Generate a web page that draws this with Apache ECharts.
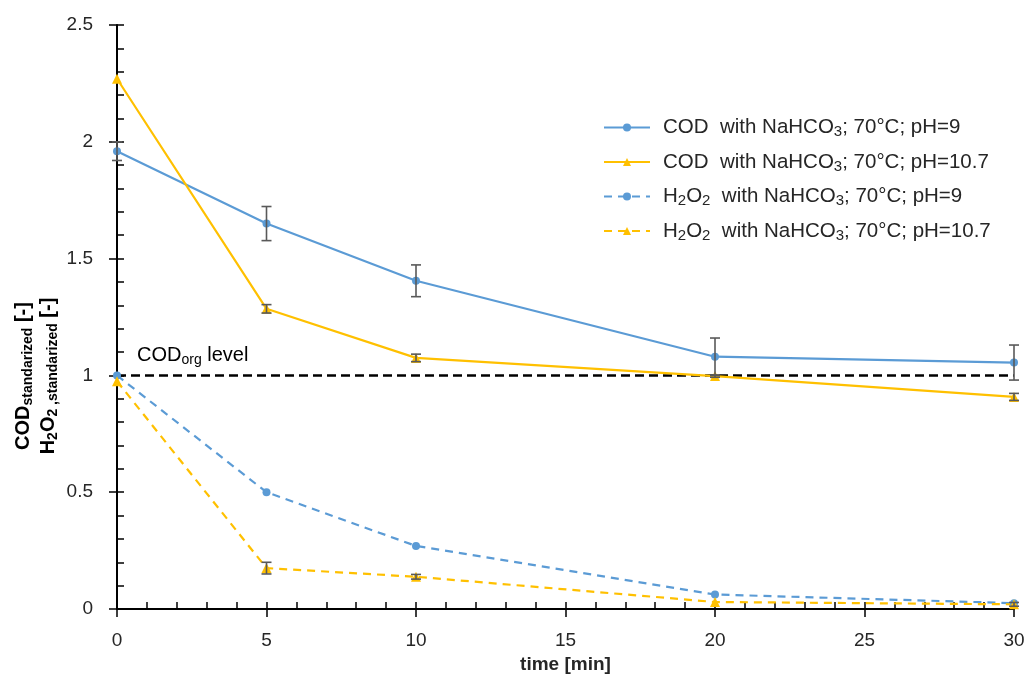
<!DOCTYPE html>
<html>
<head>
<meta charset="utf-8">
<script src="https://cdn.jsdelivr.net/npm/echarts@6/dist/echarts.min.js"></script>
<style>html,body{margin:0;padding:0;background:#fff}#c{width:1028px;height:688px}</style>
</head>
<body>
<div id="c"></div>
<script>
const times = [0, 5, 10, 20, 30];
const codPH9 = [1.96, 1.65, 1.405, 1.08, 1.055];
const codPH9Err = [0.04, 0.073, 0.068, 0.08, 0.075];
const codPH107 = [2.27, 1.285, 1.075, 0.997, 0.908];
const codPH107Err = [0, 0.018, 0.016, 0.005, 0.015];
const h2o2PH9 = [1.0, 0.50, 0.27, 0.062, 0.025];
const h2o2PH9Err = [0, 0, 0, 0, 0];
const h2o2PH107 = [0.975, 0.175, 0.138, 0.03, 0.02];
const h2o2PH107Err = [0, 0.025, 0.01, 0, 0.008];
const refLevel = 1;
const seriesNames = [
  'COD  with NaHCO3; 70°C; pH=9',
  'COD  with NaHCO3; 70°C; pH=10.7',
  'H2O2  with NaHCO3; 70°C; pH=9',
  'H2O2  with NaHCO3; 70°C; pH=10.7'
];
const legendRich = {
  [seriesNames[0]]: 'COD  with NaHCO{s|3}; 70°C; pH=9',
  [seriesNames[1]]: 'COD  with NaHCO{s|3}; 70°C; pH=10.7',
  [seriesNames[2]]: 'H{s|2}O{s|2}  with NaHCO{s|3}; 70°C; pH=9',
  [seriesNames[3]]: 'H{s|2}O{s|2}  with NaHCO{s|3}; 70°C; pH=10.7'
};

const BLUE = '#5B9BD5', ORANGE = '#FFC000', ERR = '#595959';
const FONT = 'Liberation Sans';

function pts(vals) { return times.map((t, i) => [t, vals[i]]); }
function errData(vals, errs) {
  const out = [];
  times.forEach((t, i) => { if (errs[i] > 0) out.push([t, vals[i] - errs[i], vals[i] + errs[i]]); });
  return out;
}
function errSeries(vals, errs) {
  return {
    type: 'custom', z: 5, silent: true,
    data: errData(vals, errs),
    encode: { x: 0, y: [1, 2] },
    renderItem: function (params, api) {
      const lo = api.coord([api.value(0), api.value(1)]);
      const hi = api.coord([api.value(0), api.value(2)]);
      const w = 5;
      const st = { stroke: ERR, lineWidth: 1.6, fill: null };
      return {
        type: 'group', children: [
          { type: 'line', shape: { x1: lo[0], y1: lo[1], x2: hi[0], y2: hi[1] }, style: st },
          { type: 'line', shape: { x1: lo[0] - w, y1: lo[1], x2: lo[0] + w, y2: lo[1] }, style: st },
          { type: 'line', shape: { x1: hi[0] - w, y1: hi[1], x2: hi[0] + w, y2: hi[1] }, style: st }
        ]
      };
    }
  };
}

const chart = echarts.init(document.getElementById('c'));
const axisLine = { show: true, onZero: false, lineStyle: { color: '#000', width: 2 } };
const labelStyle = { color: '#262626', fontSize: 19, fontFamily: FONT };

chart.setOption({
  animation: false,
  textStyle: { fontFamily: FONT },
  grid: { left: 117, right: 14, top: 25, bottom: 79, containLabel: false, outerBoundsMode: 'none' },
  xAxis: [{
    type: 'value', min: 0, max: 30, interval: 5,
    axisLine: axisLine,
    axisTick: { show: true, inside: true, length: 7, lineStyle: { color: '#000', width: 1.5 } },
    minorTick: { show: true, splitNumber: 5, length: 7, lineStyle: { color: '#000', width: 1.5 } },
    splitLine: { show: false },
    axisLabel: Object.assign({ margin: 22 }, labelStyle),
    name: 'time [min]', nameLocation: 'middle', nameGap: 45,
    nameTextStyle: { fontSize: 19, fontWeight: 'bold', color: '#262626', fontFamily: FONT }
  }, {
    type: 'value', min: 0, max: 30, interval: 5, position: 'bottom',
    axisLine: { show: false, onZero: false },
    axisTick: { show: true, inside: false, length: 8, lineStyle: { color: '#000', width: 1.5 } },
    axisLabel: { show: false }, splitLine: { show: false }
  }],
  yAxis: [{
    type: 'value', min: 0, max: 2.5, interval: 0.5,
    axisLine: axisLine,
    axisTick: { show: true, inside: true, length: 7, lineStyle: { color: '#000', width: 1.5 } },
    minorTick: { show: true, splitNumber: 5, length: 7, lineStyle: { color: '#000', width: 1.5 } },
    splitLine: { show: false },
    axisLabel: Object.assign({ margin: 24, formatter: v => String(v) }, labelStyle)
  }, {
    type: 'value', min: 0, max: 2.5, interval: 0.5, position: 'left',
    axisLine: { show: false, onZero: false },
    axisTick: { show: true, inside: false, length: 8, lineStyle: { color: '#000', width: 1.5 } },
    axisLabel: { show: false }, splitLine: { show: false }
  }],
  legend: {
    orient: 'vertical', left: 598, top: 112, itemGap: 12, itemWidth: 46, itemHeight: 10,
    data: seriesNames,
    formatter: name => legendRich[name],
    textStyle: {
      fontSize: 20.5, color: '#262626', fontFamily: FONT, padding: [0, 0, 0, 8],
      rich: { s: { fontSize: 15, verticalAlign: 'bottom', padding: [9, 0, 0, 0], fontFamily: FONT, color: '#262626' } }
    }
  },
  graphic: [{
    type: 'text', x: 36, y: 376, rotation: Math.PI / 2, silent: true,
    style: {
      text: '{b|COD}{s|standarized}{b| [-]}\n{b|H}{s2|2}{b|O}{s2|2}{s| ,standarized}{b| [-]}',
      align: 'center', verticalAlign: 'middle',
      rich: {
        b: { fontSize: 20, fontWeight: 'bold', fill: '#000', fontFamily: FONT, lineHeight: 25 },
        s: { fontSize: 14, fontWeight: 'bold', fill: '#000', fontFamily: FONT, padding: [9, 0, 0, 0], lineHeight: 25 },
        s2: { fontSize: 14, fontWeight: 'bold', fill: '#000', fontFamily: FONT, padding: [9, 0, 0, 0], lineHeight: 25 }
      }
    }
  }],
  series: [
    {
      name: seriesNames[0], type: 'line', data: pts(codPH9), z: 3,
      symbol: 'circle', symbolSize: 8,
      lineStyle: { color: BLUE, width: 2.2 }, itemStyle: { color: BLUE },
      markLine: {
        silent: true, symbol: 'none', z: 2,
        lineStyle: { color: '#000', type: [9, 5], width: 2.5 },
        label: {
          show: true, position: 'insideStartTop', distance: [20, 8],
          formatter: '{a|COD}{o|org}{a| level}',
          rich: {
            a: { fontSize: 20, color: '#000', fontFamily: FONT },
            o: { fontSize: 14, color: '#000', fontFamily: FONT, padding: [10, 0, 0, 0] }
          }
        },
        data: [{ yAxis: refLevel }]
      }
    },
    {
      name: seriesNames[1], type: 'line', data: pts(codPH107), z: 3,
      symbol: 'triangle', symbolSize: 10,
      lineStyle: { color: ORANGE, width: 2.2 }, itemStyle: { color: ORANGE }
    },
    {
      name: seriesNames[2], type: 'line', data: pts(h2o2PH9), z: 3,
      symbol: 'circle', symbolSize: 8,
      lineStyle: { color: BLUE, width: 2.2, type: [8, 6] }, itemStyle: { color: BLUE }
    },
    {
      name: seriesNames[3], type: 'line', data: pts(h2o2PH107), z: 3,
      symbol: 'triangle', symbolSize: 10,
      lineStyle: { color: ORANGE, width: 2.2, type: [8, 6] }, itemStyle: { color: ORANGE }
    },
    errSeries(codPH9, codPH9Err),
    errSeries(codPH107, codPH107Err),
    errSeries(h2o2PH9, h2o2PH9Err),
    errSeries(h2o2PH107, h2o2PH107Err)
  ]
});
</script>
</body>
</html>
